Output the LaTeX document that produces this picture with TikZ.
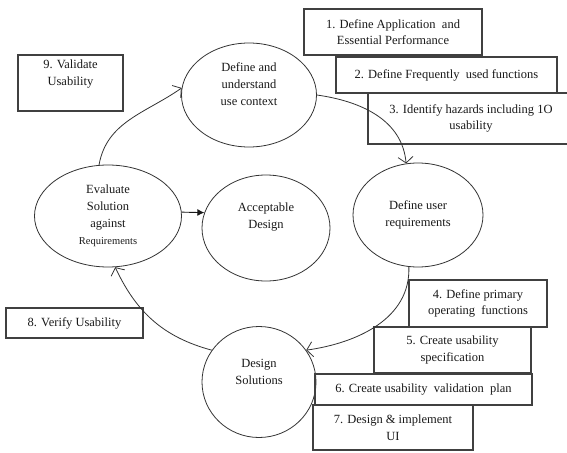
\documentclass[tikz,border=0pt]{standalone}
\usepackage{fontspec}
\IfFontExistsTF{LiberationSerif}{\newfontfamily\diagfont{LiberationSerif}}{\newfontfamily\diagfont{Latin Modern Roman}}
\usetikzlibrary{arrows.meta,shapes.geometric}
\tikzset{
  box/.style={draw=black!75, line width=1.1pt, rectangle, inner sep=0pt, align=center,
    text=black!90, font=\diagfont\fontsize{12.5}{16.5}\selectfont},
  oval/.style={draw=black!80, line width=0.8pt, ellipse, inner sep=0pt, align=center,
    text=black!90, font=\diagfont\fontsize{12.5}{17}\selectfont},
  flow/.style={draw=black!80, line width=0.8pt, -{Straight Barb[length=6pt,width=15pt]}},
  fillarrow/.style={draw=black!90, line width=0.9pt, -{Latex[length=7pt,width=7pt]}}
}
\begin{document}
\begin{tikzpicture}[x=1pt,y=-1pt]
\clip (0,0) rectangle (567,452);
\fill[white] (0,0) rectangle (567,452);

% ellipses
\node[oval, minimum width=135pt, minimum height=104pt] (ctx) at (249,95) {Define and\\understand\\use context\\[4pt]};
\node[oval, minimum width=130pt, minimum height=104pt] (ureq) at (418,215) {Define user\\requirements};
\node[oval, minimum width=147pt, minimum height=102pt] (eval) at (108,216) {Evaluate\\Solution\\against\\{\fontsize{10.5}{14}\selectfont Requirements}};
\node[oval, minimum width=128pt, minimum height=106pt] (acc) at (266,228) {Acceptable\\Design\\[8pt]};
\node[oval, minimum width=114pt, minimum height=111pt] (des) at (259,382) {Design\\Solutions\\[4pt]};

% boxes
\node[box, minimum width=178pt, minimum height=46pt] (b1) at (393,32) {1. Define Application\ \ and\\Essential Performance};
\node[box, minimum width=221pt, minimum height=36pt] (b2) at (446.5,75) {2. Define Frequently\ \ used functions};
\node[box, minimum width=206pt, minimum height=51pt] (b3) at (471,118.5) {3. Identify hazards including 1O\\usability};
\node[box, minimum width=105pt, minimum height=56pt] (b9) at (70.5,83) {9. Validate\\Usability\\[4pt]};
\node[box, minimum width=137pt, minimum height=30pt] (b8) at (74.5,323) {8. Verify Usability};
\node[box, minimum width=138pt, minimum height=47pt] (b4) at (478,303.5) {4. Define primary\\operating\ \ functions};
\node[box, minimum width=157pt, minimum height=46pt] (b5) at (452.5,350) {5. Create usability\\specification};
\node[box, minimum width=217pt, minimum height=31pt] (b6) at (423.5,389.5) {6. Create usability\ \ validation\ \ plan};
\node[box, minimum width=160pt, minimum height=45pt] (b7) at (393,427.5) {7. Design \& implement\\UI};

% connectors
\draw[flow] (eval.100) to[out=80, in=215] (ctx.174);
\draw[flow] (ctx.0) to[out=-8, in=95] (ureq.103);
\draw[flow] (ureq.260) to[out=-88, in=8] (des.34);
\draw[flow] (des.146) to[out=165, in=-65] (eval.278);
\draw[fillarrow] (eval.3) -- (acc.166);
\end{tikzpicture}
\end{document}
